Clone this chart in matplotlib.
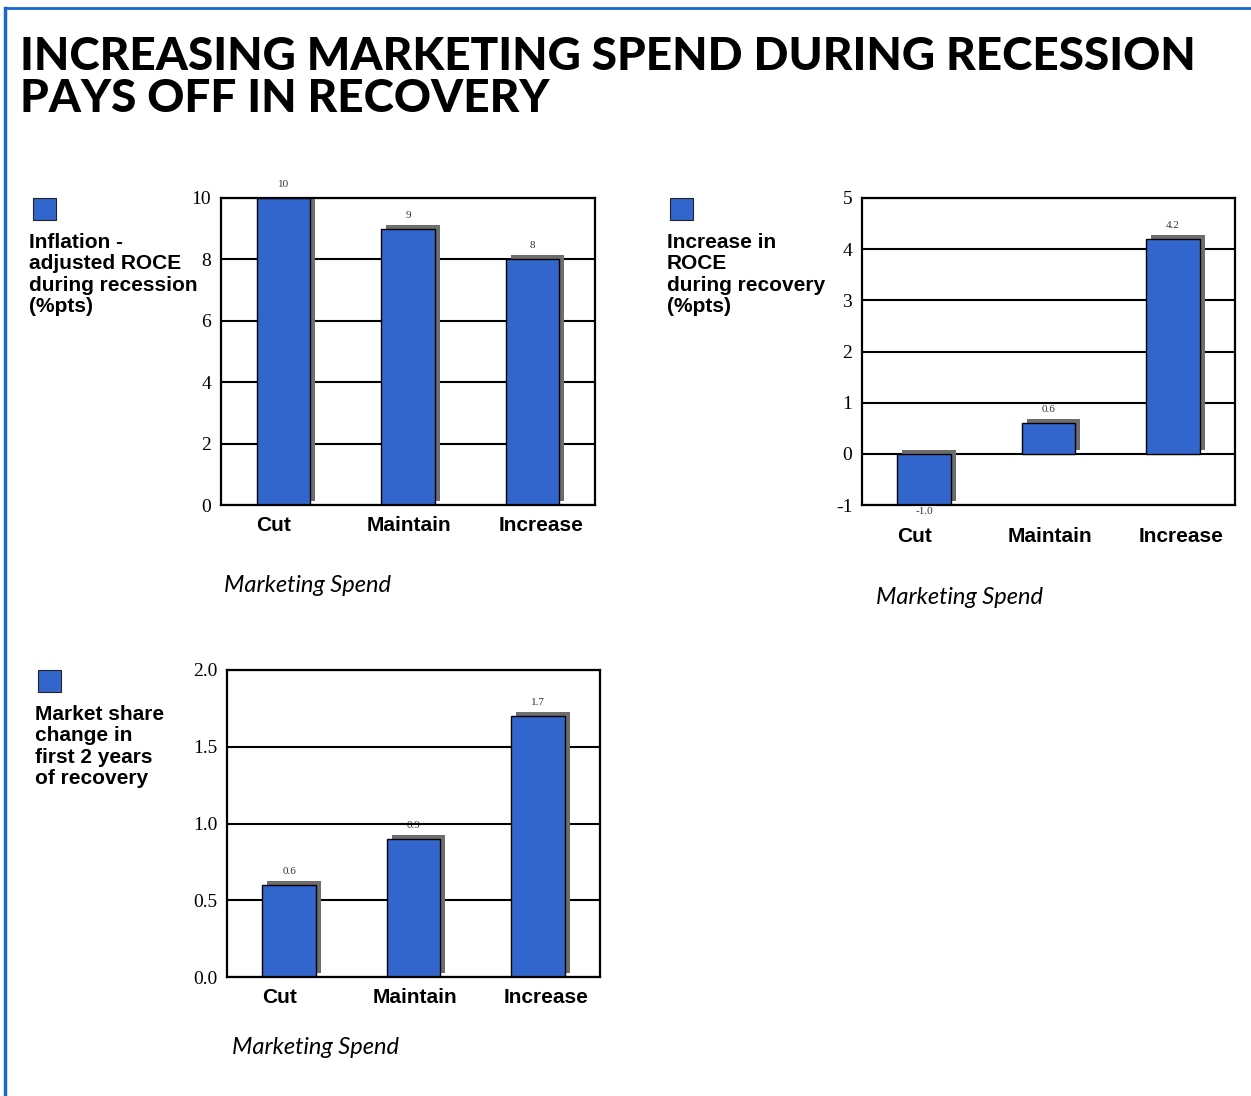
import matplotlib.pyplot as plt
from matplotlib import transforms
from matplotlib.lines import Line2D
from matplotlib.patches import Rectangle

W, H = 1251, 1096
BLUE = "#3366CC"
SHADOW = "#6E6E6E"
FRAME = "#1A66D0"

categories = ["Cut", "Maintain", "Increase"]

roce_recession = [10, 9, 8]
roce_recession_labels = ["10", "9", "8"]

roce_recovery = [-1.0, 0.6, 4.2]
roce_recovery_labels = ["-1.0", "0.6", "4.2"]

share_change = [0.6, 0.9, 1.7]
share_change_labels = ["0.6", "0.9", "1.7"]

title = "INCREASING MARKETING SPEND DURING RECESSION\nPAYS OFF IN RECOVERY"


def px_rect(left, right, top, bottom):
    return [left / W, 1 - bottom / H, (right - left) / W, (bottom - top) / H]


def panel(fig, rect, values, labels, yticks, yticklabels, ylim, cat_pad):
    ax = fig.add_axes(rect)
    x = range(len(values))
    # drop shadow: same bars nudged right and up a few pixels
    shift = transforms.offset_copy(ax.transData, fig=fig, x=5, y=4, units="dots")
    ax.bar(x, values, width=0.43, color=SHADOW, linewidth=0, transform=shift, zorder=1)
    bars = ax.bar(x, values, width=0.43, color=BLUE, edgecolor="black", linewidth=1.0, zorder=2)
    for b, v, s in zip(bars, values, labels):
        cx = b.get_x() + b.get_width() / 2
        if v >= 0:
            ax.annotate(s, (cx, v), xytext=(0, 9), textcoords="offset pixels",
                        ha="center", va="bottom", fontsize=8, family="Liberation Serif",
                        color="#333333", zorder=0.3)
        else:
            ax.annotate(s, (cx, v), xytext=(0, -2), textcoords="offset pixels",
                        ha="center", va="top", fontsize=8, family="Liberation Serif",
                        color="#333333", zorder=0.3)
    ax.set_xlim(-0.5, 2.5)
    ax.set_ylim(*ylim)
    ax.set_yticks(yticks)
    ax.set_yticklabels(yticklabels, family="Liberation Serif", fontsize=14)
    ax.set_xticks([i + d for i, d in zip(x, [-0.08, 0.01, 0.07])])
    ax.set_xticklabels(categories, family="Liberation Sans", fontweight="bold", fontsize=15)
    ax.tick_params(axis="both", length=0)
    ax.tick_params(axis="y", pad=7)
    ax.tick_params(axis="x", pad=cat_pad)
    ax.set_axisbelow(True)
    ax.grid(axis="y", color="black", linewidth=1.5)
    for sp in ax.spines.values():
        sp.set_linewidth(1.6)
        sp.set_zorder(3)
    return ax


def legend_block(fig, sq_left, sq_top, text_left, text_top, text):
    fig.patches.append(Rectangle((sq_left / W, 1 - (sq_top + 22) / H), 23 / W, 22 / H,
                                 transform=fig.transFigure, facecolor=BLUE,
                                 edgecolor="#222222", linewidth=0.8))
    fig.text(text_left / W, 1 - text_top / H, text, ha="left", va="top",
             family="Liberation Sans", fontweight="bold", fontsize=15, linespacing=1.16)


def axis_caption(fig, cx, cy):
    fig.text(cx / W, 1 - cy / H, "Marketing Spend", ha="center", va="center",
             family="Lato", style="italic", fontsize=17)


def main():
    fig = plt.figure(figsize=(W / 100, H / 100), dpi=100)

    # blue frame on top and left edges
    fig.lines.append(Line2D([5 / W, 1], [1 - 8 / H, 1 - 8 / H], transform=fig.transFigure,
                            color=FRAME, linewidth=2))
    fig.lines.append(Line2D([5 / W, 5 / W], [0, 1 - 8 / H], transform=fig.transFigure,
                            color=FRAME, linewidth=2.5))

    fig.text(20 / W, 1 - 36 / H, title, ha="left", va="top", family="Lato",
             fontweight="black", fontsize=33, linespacing=1.01)

    panel(fig, px_rect(221, 595, 198, 505), roce_recession, roce_recession_labels,
          [0, 2, 4, 6, 8, 10], ["0", "2", "4", "6", "8", "10"], (0, 10), 8)
    legend_block(fig, 33, 198, 29, 233,
                 "Inflation -\nadjusted ROCE\nduring recession\n(%pts)")
    axis_caption(fig, 307, 585)

    panel(fig, px_rect(862, 1235, 198, 505), roce_recovery, roce_recovery_labels,
          [-1, 0, 1, 2, 3, 4, 5], ["-1", "0", "1", "2", "3", "4", "5"], (-1, 5), 16)
    legend_block(fig, 670, 198, 667, 233,
                 "Increase in\nROCE\nduring recovery\n(%pts)")
    axis_caption(fig, 960, 598)

    panel(fig, px_rect(227, 600, 670, 977), share_change, share_change_labels,
          [0, 0.5, 1.0, 1.5, 2.0], ["0.0", "0.5", "1.0", "1.5", "2.0"], (0, 2), 8)
    legend_block(fig, 38, 670, 35, 705,
                 "Market share\nchange in\nfirst 2 years\nof recovery")
    axis_caption(fig, 315, 1048)

    fig.savefig("out.png", dpi=100, facecolor="white")
    plt.close(fig)


if __name__ == "__main__":
    main()
